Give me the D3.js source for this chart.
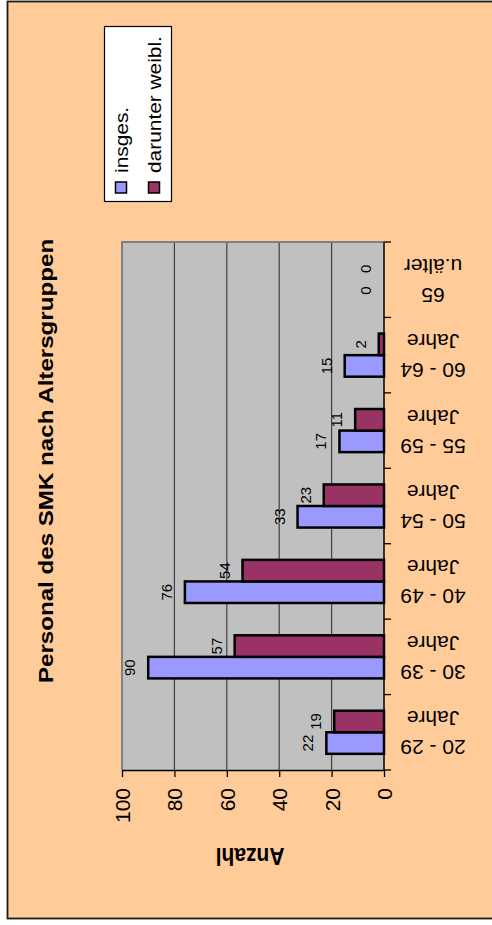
<!DOCTYPE html>
<html>
<head>
<meta charset="utf-8">
<script src="https://cdn.jsdelivr.net/npm/d3@7"></script>
<style>
  html, body { margin: 0; padding: 0; background: #ffffff; }
  svg { display: block; }
  text { font-family: Arial, "Liberation Sans", sans-serif; fill: #000; }
</style>
</head>
<body>
<svg id="chart" width="492" height="925"></svg>
<script>
// Personal des SMK nach Altersgruppen
const categories = ["20 - 29 Jahre", "30 - 39 Jahre", "40 - 49 Jahre", "50 - 54 Jahre",
                    "55 - 59 Jahre", "60 - 64 Jahre", "65 u.älter"];
const seriesNames = ["insges.", "darunter weibl."];
const insges = [22, 90, 76, 33, 17, 15, 0];
const weibl  = [19, 57, 54, 23, 11, 2, 0];
const valueTicks = [0, 20, 40, 60, 80, 100];
const titleText = "Personal des SMK nach Altersgruppen";
const axisTitle = "Anzahl";

const colors = { "insges.": "#9999FF", "darunter weibl.": "#993366" };
const font = 'Arial, "Liberation Sans", sans-serif';

const svg = d3.select("#chart");

// chart area
svg.append("rect")
  .attr("x", 7.5).attr("y", 1.5).attr("width", 520).attr("height", 917)
  .attr("fill", "#FFCC99").attr("stroke", "#1a1a1a").attr("stroke-width", 1.8);

// plot area bounds
const plot = { left: 122, right: 384, top: 242, bottom: 770 };

const x = d3.scaleLinear().domain([0, 100]).range([plot.right, plot.left]);
const gap = 1.5; // gap width relative to one bar
const y = d3.scaleBand().domain(categories)
  .range([plot.bottom, plot.top])
  .paddingInner(gap / (2 + gap))
  .paddingOuter(gap / 2 / (2 + gap));
const sub = d3.scaleBand().domain(["darunter weibl.", "insges."]).range([0, y.bandwidth()]);

svg.append("rect")
  .attr("x", plot.left).attr("y", plot.top)
  .attr("width", plot.right - plot.left).attr("height", plot.bottom - plot.top)
  .attr("fill", "#C0C0C0");

// gridlines
svg.append("g").selectAll("line")
  .data(valueTicks.filter(v => v > 0 && v < 100))
  .join("line")
  .attr("x1", d => x(d)).attr("x2", d => x(d))
  .attr("y1", plot.top).attr("y2", plot.bottom)
  .attr("stroke", "#404040").attr("stroke-width", 1.2);

// plot border (top and left)
svg.append("path")
  .attr("d", `M${plot.left},${plot.bottom} V${plot.top} H${plot.right}`)
  .attr("fill", "none").attr("stroke", "#808080").attr("stroke-width", 2);

// bars
const rows = categories.map((c, i) => ({ cat: c, "insges.": insges[i], "darunter weibl.": weibl[i] }));
const bars = [];
rows.forEach(r => seriesNames.forEach(s => bars.push({ cat: r.cat, series: s, value: r[s] })));

svg.append("g").selectAll("rect")
  .data(bars.filter(d => d.value > 0))
  .join("rect")
  .attr("x", d => x(d.value))
  .attr("y", d => y(d.cat) + sub(d.series))
  .attr("width", d => x(0) - x(d.value))
  .attr("height", sub.bandwidth())
  .attr("fill", d => colors[d.series])
  .attr("stroke", "#000").attr("stroke-width", 2.5);

// value labels
svg.append("g").selectAll("text")
  .data(bars)
  .join("text")
  .attr("transform", d => `translate(${x(d.value) - 13},${y(d.cat) + sub(d.series) + sub.bandwidth() / 2}) rotate(-90)`)
  .attr("text-anchor", "middle")
  .style("font-size", "15px")
  .text(d => d.value);

// value axis
const xAxis = svg.append("g")
  .attr("transform", `translate(0,${plot.bottom})`)
  .call(d3.axisBottom(x).tickValues(valueTicks).tickSize(7).tickSizeOuter(0).tickFormat(d3.format("d")));
xAxis.select(".domain").attr("stroke", "#000").attr("stroke-width", 1.5);
xAxis.selectAll(".tick line").attr("stroke", "#000").attr("stroke-width", 1.3);
xAxis.selectAll(".tick text")
  .attr("y", null).attr("dy", null)
  .attr("transform", "translate(0,18) rotate(-90)")
  .attr("text-anchor", "end")
  .attr("dominant-baseline", "central")
  .attr("font-family", font)
  .attr("font-size", 21)
  .attr("fill", "#000");

// category axis
svg.append("line")
  .attr("x1", plot.right).attr("x2", plot.right)
  .attr("y1", plot.top).attr("y2", plot.bottom)
  .attr("stroke", "#000").attr("stroke-width", 1.5);
const half = (y.step() - y.bandwidth()) / 2;
const bounds = categories.map(c => y(c) - half).concat([plot.bottom]);
svg.append("g").selectAll("line")
  .data(bounds)
  .join("line")
  .attr("x1", plot.right).attr("x2", plot.right + 7)
  .attr("y1", d => d).attr("y2", d => d)
  .attr("stroke", "#000").attr("stroke-width", 1.3);

const catLabels = svg.append("g").selectAll("g")
  .data(categories)
  .join("g")
  .attr("transform", c => `translate(433,${y(c) + y.bandwidth() / 2}) rotate(180)`);
catLabels.selectAll("text")
  .data(c => {
    const k = c.lastIndexOf(" ");
    return [c.slice(0, k), c.slice(k + 1)];
  })
  .join("text")
  .attr("y", (d, i) => i === 0 ? -8 : 21)
  .attr("text-anchor", "middle")
  .style("font-size", "21px")
  .text(d => d);

// axis title
svg.append("text")
  .attr("transform", `translate(${(plot.left + plot.right) / 2 - 3},848) scale(1,1.12) rotate(180)`)
  .attr("text-anchor", "middle")
  .style("font-size", "21px").style("font-weight", "bold")
  .text(axisTitle);

// chart title
svg.append("text")
  .attr("transform", `translate(52.5,461) scale(1,1.15) rotate(-90)`)
  .attr("text-anchor", "middle")
  .style("font-size", "21px").style("font-weight", "bold")
  .text(titleText);

// legend
const legend = svg.append("g");
legend.append("rect")
  .attr("x", 104.5).attr("y", 26.5).attr("width", 67).attr("height", 175)
  .attr("fill", "#fff").attr("stroke", "#000").attr("stroke-width", 1.2);
const legendX = d3.scalePoint().domain(seriesNames).range([121, 154]);
const items = legend.selectAll("g.item")
  .data(seriesNames)
  .join("g").attr("class", "item");
items.append("rect")
  .attr("x", d => legendX(d) - 5.5).attr("y", 182)
  .attr("width", 11).attr("height", 11)
  .attr("fill", d => colors[d]).attr("stroke", "#000").attr("stroke-width", 1.5);
items.append("text")
  .attr("transform", d => `translate(${legendX(d) + 7},173) scale(1,1.16) rotate(-90)`)
  .attr("text-anchor", "start")
  .style("font-size", "18px")
  .text(d => d);
</script>
</body>
</html>
